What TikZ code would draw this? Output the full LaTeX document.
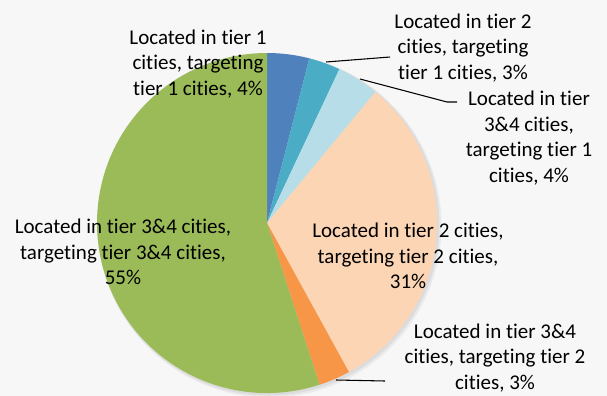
\documentclass[tikz,border=0pt]{standalone}
\usepackage{fontspec}
\setmainfont{Carlito}[Ligatures=NoCommon]
\usepackage{tikz}

\definecolor{bgcol}{RGB}{247,247,247}
\definecolor{sliceblue}{RGB}{79,129,189}
\definecolor{sliceteal}{RGB}{75,172,198}
\definecolor{slicelightblue}{RGB}{183,222,232}
\definecolor{slicepeach}{RGB}{252,213,181}
\definecolor{sliceorange}{RGB}{247,150,70}
\definecolor{slicegreen}{RGB}{155,187,89}

\begin{document}
\begin{tikzpicture}[x=0.75pt,y=0.75pt,yscale=-1,xscale=1,
  lbl/.style={inner sep=0.75pt, align=center, font=\fontsize{15.75}{19.2}\selectfont},
  leader/.style={line width=0.8pt}]
%set diagram left start at 0, and has height of 396
\fill[bgcol] (0,0) rectangle (607,396);
\path[use as bounding box] (0,0) rectangle (607,396);

%Shape: Shadow
\fill[black, opacity=0.05] (269.5,225.5) circle (172);
\fill[black, opacity=0.06] (268.5,224.5) circle (171);

%Shape: Slice tier 1 / tier 1
\fill[sliceblue] (267,223) -- ++(-90:170) arc[start angle=-90, end angle=-75.6, radius=170] -- cycle;
%Shape: Slice tier 2 / tier 1
\fill[sliceteal] (267,223) -- ++(-75.6:170) arc[start angle=-75.6, end angle=-64.8, radius=170] -- cycle;
%Shape: Slice tier 3&4 / tier 1
\fill[slicelightblue] (267,223) -- ++(-64.8:170) arc[start angle=-64.8, end angle=-50.4, radius=170] -- cycle;
%Shape: Slice tier 2 / tier 2
\fill[slicepeach] (267,223) -- ++(-50.4:170) arc[start angle=-50.4, end angle=61.2, radius=170] -- cycle;
%Shape: Slice tier 3&4 / tier 2
\fill[sliceorange] (267,223) -- ++(61.2:170) arc[start angle=61.2, end angle=72, radius=170] -- cycle;
%Shape: Slice tier 3&4 / tier 3&4
\fill[slicegreen] (267,223) -- ++(72:170) arc[start angle=72, end angle=270, radius=170] -- cycle;

% Text Node
\draw (198,64) node (lblonetoone) [lbl] {Located in tier 1\\cities, targeting\\tier 1 cities, 4\%};
% Text Node
\draw (463,48) node (lbltwotoone) [lbl] {Located in tier 2\\cities, targeting\\tier 1 cities, 3\%};
% Text Node
\draw (529,138) node (lblthreetoone) [lbl] {Located in tier\\3\&4 cities,\\targeting tier 1\\cities, 4\%};
% Text Node
\draw (408,256) node (lbltwototwo) [lbl] {Located in tier 2 cities,\\targeting tier 2 cities,\\31\%};
% Text Node
\draw (123,252) node (lblthreetothree) [lbl] {Located in tier 3\&4 cities,\\targeting tier 3\&4 cities,\\55\%};
% Text Node
\draw (495,358) node (lblthreetotwo) [lbl] {Located in tier 3\&4\\cities, targeting tier 2\\cities, 3\%};

%Leader ends
\coordinate (tealtip) at (326,62);
\coordinate (tealend) at (390,57);
\coordinate (lightbluetip) at (360,79);
\coordinate (lightbluebend) at (447,102);
\coordinate (lightblueend) at (457,102);
\coordinate (orangetip) at (336,380);
\coordinate (orangeend) at (385,381);

%Straight Lines
\draw [leader] (tealtip) -- (tealend);
%Straight Lines
\draw [leader] (lightbluetip) -- (lightbluebend) -- (lightblueend);
%Straight Lines
\draw [leader] (orangetip) -- (orangeend);

\end{tikzpicture}
\end{document}
